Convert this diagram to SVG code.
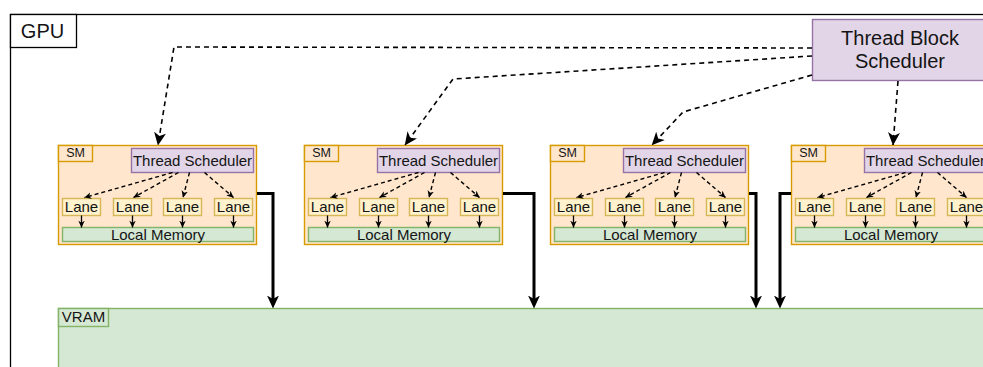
<svg xmlns="http://www.w3.org/2000/svg" width="983" height="367" viewBox="0 0 983 367">
  <defs>
    <style>
      text { font-family: "Liberation Sans", Arial, Helvetica, sans-serif; fill: #141414; text-anchor: middle; }
      .frame { fill: #ffffff; stroke: #000000; stroke-width: 1.3; }
      .sm { fill: #ffe6cc; stroke: #d79b00; stroke-width: 1.4; }
      .lane { fill: #fff2cc; stroke: #d6b656; stroke-width: 1.4; }
      .mem { fill: #d5e8d4; stroke: #82b366; stroke-width: 1.4; }
      .sched { fill: #e1d5e7; stroke: #9673a6; stroke-width: 1.4; }
      .dash { fill: none; stroke: #000000; stroke-width: 1.6; stroke-dasharray: 5 4; marker-end: url(#arrowDash); }
      .dashSm { fill: none; stroke: #000000; stroke-width: 1.4; stroke-dasharray: 4 3; marker-end: url(#arrowSm); }
      .solidSm { fill: none; stroke: #000000; stroke-width: 1.3; marker-end: url(#arrowSm); }
      .bus { fill: none; stroke: #000000; stroke-width: 3; marker-end: url(#arrowBus); }
      .t12 { font-size: 12.5px; }
      .t15 { font-size: 15px; }
      .t20 { font-size: 20px; }
    </style>
    <marker id="arrowDash" viewBox="0 0 13 13" refX="12.5" refY="6.5" markerWidth="13" markerHeight="13" markerUnits="userSpaceOnUse" orient="auto">
      <path d="M0,0.5 L13,6.5 L0,12.5 L3.5,6.5 z" fill="#000"/>
    </marker>
    <marker id="arrowBus" viewBox="0 0 13 13" refX="3.5" refY="6.5" markerWidth="13" markerHeight="13" markerUnits="userSpaceOnUse" orient="auto">
      <path d="M0,0.5 L13,6.5 L0,12.5 L3.5,6.5 z" fill="#000"/>
    </marker>
    <marker id="arrowSm" viewBox="0 0 7 7" refX="6.8" refY="3.5" markerWidth="7" markerHeight="7" markerUnits="userSpaceOnUse" orient="auto">
      <path d="M0,0.3 L7,3.5 L0,6.7 L2,3.5 z" fill="#000"/>
    </marker>
  </defs>

  <!-- GPU frame -->
  <g id="gpu">
    <rect class="frame" x="10.5" y="14.5" width="1000" height="400"/>
    <rect class="frame" x="10.5" y="14.5" width="66" height="33"/>
    <text class="t20" x="42.5" y="38">GPU</text>
  </g>

  <!-- Block scheduler -->
  <g id="thread-block-scheduler">
    <rect class="sched" x="812.5" y="19.5" width="180" height="61"/>
    <text class="t20" x="900" y="44.5">Thread Block</text>
    <text class="t20" x="900" y="68">Scheduler</text>
  </g>

  <!-- VRAM -->
  <g id="vram">
    <rect class="mem" x="58.5" y="308.5" width="1000" height="100"/>
    <rect class="mem" x="58.5" y="308.5" width="50" height="18"/>
    <text class="t15" x="83.5" y="322">VRAM</text>
  </g>

  <!-- Streaming multiprocessors -->
  <g id="sm1" transform="translate(58.5,145.5)">
    <rect class="sm" x="0" y="0" width="198" height="99"/>
    <rect class="sm" x="0" y="0" width="34" height="16"/>
    <text class="t12" x="17" y="11.5">SM</text>
    <g id="sm1-scheduler"><rect class="sched" x="73" y="3" width="122" height="24"/><text class="t15" x="134" y="20">Thread Scheduler</text></g>
    <g id="sm1-lane1"><rect class="lane" x="4" y="53" width="38" height="17"/><text class="t15" x="23" y="66">Lane</text></g>
    <g id="sm1-lane2"><rect class="lane" x="55" y="53" width="38" height="17"/><text class="t15" x="74" y="66">Lane</text></g>
    <g id="sm1-lane3"><rect class="lane" x="105" y="53" width="38" height="17"/><text class="t15" x="124" y="66">Lane</text></g>
    <g id="sm1-lane4"><rect class="lane" x="156" y="53" width="38" height="17"/><text class="t15" x="175" y="66">Lane</text></g>
    <g id="sm1-memory"><rect class="mem" x="4" y="82" width="191" height="14"/><text class="t15" x="99.5" y="94">Local Memory</text></g>
    <g id="sm1-connectors">
      <path class="dashSm" d="M114,27 L26,52"/>
      <path class="dashSm" d="M120,27 L75,52"/>
      <path class="dashSm" d="M131,27 L124.5,52"/>
      <path class="dashSm" d="M146,27 L175,52"/>
      <path class="solidSm" d="M23,70 V82"/>
      <path class="solidSm" d="M74,70 V82"/>
      <path class="solidSm" d="M124,70 V82"/>
      <path class="solidSm" d="M175,70 V82"/>
    </g>
  </g>

  <g id="sm2" transform="translate(304.5,145.5)">
    <rect class="sm" x="0" y="0" width="198" height="99"/>
    <rect class="sm" x="0" y="0" width="34" height="16"/>
    <text class="t12" x="17" y="11.5">SM</text>
    <g id="sm2-scheduler"><rect class="sched" x="73" y="3" width="122" height="24"/><text class="t15" x="134" y="20">Thread Scheduler</text></g>
    <g id="sm2-lane1"><rect class="lane" x="4" y="53" width="38" height="17"/><text class="t15" x="23" y="66">Lane</text></g>
    <g id="sm2-lane2"><rect class="lane" x="55" y="53" width="38" height="17"/><text class="t15" x="74" y="66">Lane</text></g>
    <g id="sm2-lane3"><rect class="lane" x="105" y="53" width="38" height="17"/><text class="t15" x="124" y="66">Lane</text></g>
    <g id="sm2-lane4"><rect class="lane" x="156" y="53" width="38" height="17"/><text class="t15" x="175" y="66">Lane</text></g>
    <g id="sm2-memory"><rect class="mem" x="4" y="82" width="191" height="14"/><text class="t15" x="99.5" y="94">Local Memory</text></g>
    <g id="sm2-connectors">
      <path class="dashSm" d="M114,27 L26,52"/>
      <path class="dashSm" d="M120,27 L75,52"/>
      <path class="dashSm" d="M131,27 L124.5,52"/>
      <path class="dashSm" d="M146,27 L175,52"/>
      <path class="solidSm" d="M23,70 V82"/>
      <path class="solidSm" d="M74,70 V82"/>
      <path class="solidSm" d="M124,70 V82"/>
      <path class="solidSm" d="M175,70 V82"/>
    </g>
  </g>

  <g id="sm3" transform="translate(550.5,145.5)">
    <rect class="sm" x="0" y="0" width="198" height="99"/>
    <rect class="sm" x="0" y="0" width="34" height="16"/>
    <text class="t12" x="17" y="11.5">SM</text>
    <g id="sm3-scheduler"><rect class="sched" x="73" y="3" width="122" height="24"/><text class="t15" x="134" y="20">Thread Scheduler</text></g>
    <g id="sm3-lane1"><rect class="lane" x="4" y="53" width="38" height="17"/><text class="t15" x="23" y="66">Lane</text></g>
    <g id="sm3-lane2"><rect class="lane" x="55" y="53" width="38" height="17"/><text class="t15" x="74" y="66">Lane</text></g>
    <g id="sm3-lane3"><rect class="lane" x="105" y="53" width="38" height="17"/><text class="t15" x="124" y="66">Lane</text></g>
    <g id="sm3-lane4"><rect class="lane" x="156" y="53" width="38" height="17"/><text class="t15" x="175" y="66">Lane</text></g>
    <g id="sm3-memory"><rect class="mem" x="4" y="82" width="191" height="14"/><text class="t15" x="99.5" y="94">Local Memory</text></g>
    <g id="sm3-connectors">
      <path class="dashSm" d="M114,27 L26,52"/>
      <path class="dashSm" d="M120,27 L75,52"/>
      <path class="dashSm" d="M131,27 L124.5,52"/>
      <path class="dashSm" d="M146,27 L175,52"/>
      <path class="solidSm" d="M23,70 V82"/>
      <path class="solidSm" d="M74,70 V82"/>
      <path class="solidSm" d="M124,70 V82"/>
      <path class="solidSm" d="M175,70 V82"/>
    </g>
  </g>

  <g id="sm4" transform="translate(791.5,145.5)">
    <rect class="sm" x="0" y="0" width="198" height="99"/>
    <rect class="sm" x="0" y="0" width="34" height="16"/>
    <text class="t12" x="17" y="11.5">SM</text>
    <g id="sm4-scheduler"><rect class="sched" x="73" y="3" width="122" height="24"/><text class="t15" x="134" y="20">Thread Scheduler</text></g>
    <g id="sm4-lane1"><rect class="lane" x="4" y="53" width="38" height="17"/><text class="t15" x="23" y="66">Lane</text></g>
    <g id="sm4-lane2"><rect class="lane" x="55" y="53" width="38" height="17"/><text class="t15" x="74" y="66">Lane</text></g>
    <g id="sm4-lane3"><rect class="lane" x="105" y="53" width="38" height="17"/><text class="t15" x="124" y="66">Lane</text></g>
    <g id="sm4-lane4"><rect class="lane" x="156" y="53" width="38" height="17"/><text class="t15" x="175" y="66">Lane</text></g>
    <g id="sm4-memory"><rect class="mem" x="4" y="82" width="191" height="14"/><text class="t15" x="99.5" y="94">Local Memory</text></g>
    <g id="sm4-connectors">
      <path class="dashSm" d="M114,27 L26,52"/>
      <path class="dashSm" d="M120,27 L75,52"/>
      <path class="dashSm" d="M131,27 L124.5,52"/>
      <path class="dashSm" d="M146,27 L175,52"/>
      <path class="solidSm" d="M23,70 V82"/>
      <path class="solidSm" d="M74,70 V82"/>
      <path class="solidSm" d="M124,70 V82"/>
      <path class="solidSm" d="M175,70 V82"/>
    </g>
  </g>

  <!-- Scheduler dispatch and memory buses -->
  <g id="connectors">
    <path class="dash" d="M812,48 L174,47 L158,145"/>
    <path class="dash" d="M812,56 L453,79 L405,145"/>
    <path class="dash" d="M812,75 L683,112 L652,145"/>
    <path class="dash" d="M898,81 L893,145"/>
    <path class="bus" d="M257,193.5 H273 V299"/>
    <path class="bus" d="M503,193.5 H534 V299"/>
    <path class="bus" d="M749,193.5 H756 V299"/>
    <path class="bus" d="M791,193.5 H780 V299"/>
  </g>
</svg>
